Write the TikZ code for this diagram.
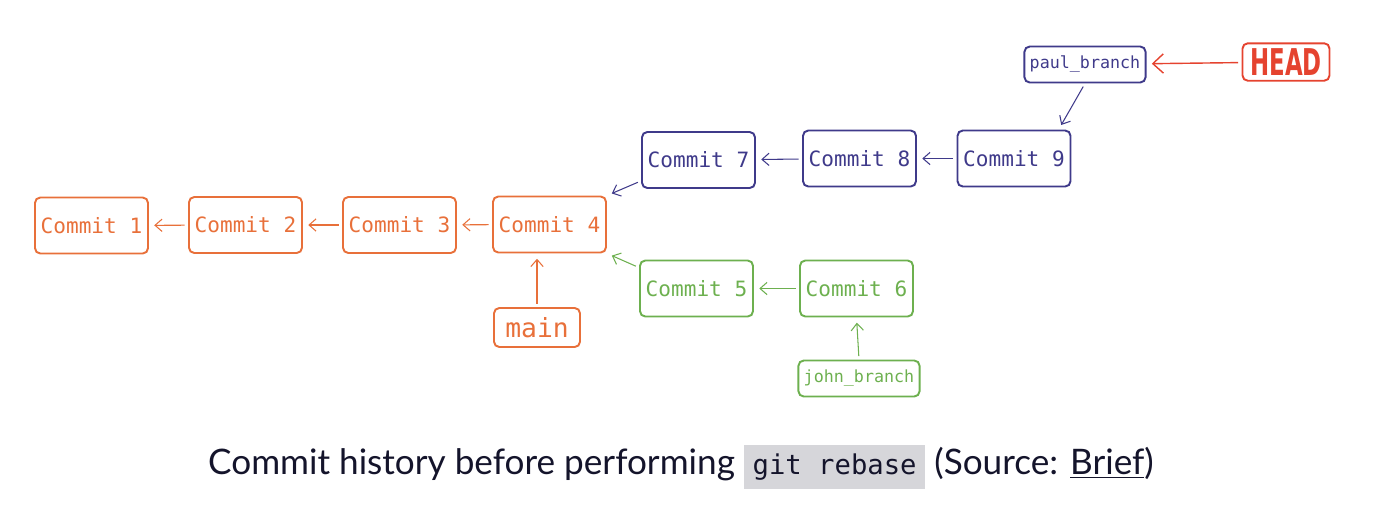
\documentclass[tikz,border=0pt]{standalone}
\usepackage{fontspec}
\usetikzlibrary{arrows.meta}
\newfontfamily\sketchfont{DejaVu Sans Mono}
\newfontfamily\headfont{DejaVu Sans}
\newfontfamily\capfont{Lato}
\definecolor{mainorange}{HTML}{E8703A}
\definecolor{paulpurple}{HTML}{3F3A8A}
\definecolor{johngreen}{HTML}{6DB04F}
\definecolor{headred}{HTML}{E5432F}
\definecolor{captext}{HTML}{14142B}
\definecolor{codegray}{HTML}{D6D6DA}
\tikzset{
  commit/.style={draw, rounded corners=3pt, line width=1.1pt, minimum width=2.26cm, minimum height=1.12cm, inner sep=2pt, font=\sketchfont\fontsize{12}{14}\selectfont},
  branch/.style={draw, rounded corners=3pt, line width=1.1pt, inner sep=3pt, minimum height=0.72cm, font=\sketchfont\fontsize{9.5}{11}\selectfont},
  link/.style={line width=0.6pt, -{Straight Barb[length=4pt,width=7pt]}, shorten >=3pt, shorten <=2pt}
}
\begin{document}
\begin{tikzpicture}
	\useasboundingbox (0,0) rectangle (27.92,-10.32);
	% main line
	\node[commit, mainorange] (c1) at (1.83,-4.51) {Commit 1};
	\node[commit, mainorange] (c2) at (4.91,-4.50) {Commit 2};
	\node[commit, mainorange] (c3) at (7.99,-4.50) {Commit 3};
	\node[commit, mainorange] (c4) at (10.99,-4.49) {Commit 4};
	\node[branch, mainorange, font=\sketchfont\fontsize{15}{17}\selectfont, minimum height=0.78cm, minimum width=1.72cm] (main) at (10.74,-6.55) {main};
	% paul
	\node[commit, paulpurple] (c7) at (13.97,-3.20) {Commit 7};
	\node[commit, paulpurple] (c8) at (17.19,-3.17) {Commit 8};
	\node[commit, paulpurple] (c9) at (20.28,-3.17) {Commit 9};
	\node[branch, paulpurple] (paul) at (21.70,-1.29) {paul\_branch};
	\node[draw, headred, rounded corners=3pt, line width=1.1pt, inner sep=3pt, minimum width=1.74cm, minimum height=0.72cm] (head) at (25.72,-1.24) {\scalebox{0.62}[1]{\headfont\bfseries\fontsize{21}{22}\selectfont HEAD}};
	% john
	\node[commit, johngreen] (c5) at (13.93,-5.77) {Commit 5};
	\node[commit, johngreen] (c6) at (17.13,-5.77) {Commit 6};
	\node[branch, johngreen] (john) at (17.18,-7.57) {john\_branch};
	% connectors
	\draw[link, mainorange] (c2) -- (c1);
	\draw[link, mainorange] (c3) -- (c2);
	\draw[link, mainorange] (c4) -- (c3);
	\draw[link, mainorange] (main.north) -- (main.north |- c4.south);
	\draw[link, paulpurple] (c7.200) -- (c4.north east);
	\draw[link, paulpurple] (c8) -- (c7);
	\draw[link, paulpurple] (c9) -- (c8);
	\draw[link, paulpurple] (paul.south) -- (c9.33);
	\draw[link, headred, line width=0.8pt, -{Straight Barb[length=6pt,width=11pt]}] (head) -- (paul);
	\draw[link, johngreen] (c5.160) -- (c4.south east);
	\draw[link, johngreen] (c6) -- (c5);
	\draw[link, johngreen] (john.north) -- (c6.south);
	% caption
	\node[captext, font=\capfont\fontsize{20}{23}\selectfont] (caption) at (13.62,-9.34)
		{Commit history before performing {\setlength{\fboxsep}{5pt}\colorbox{codegray}{\sketchfont\fontsize{15.5}{17}\selectfont git rebase\vphantom{gy}}} (Source: \underline{Brief})};
\end{tikzpicture}
\end{document}
